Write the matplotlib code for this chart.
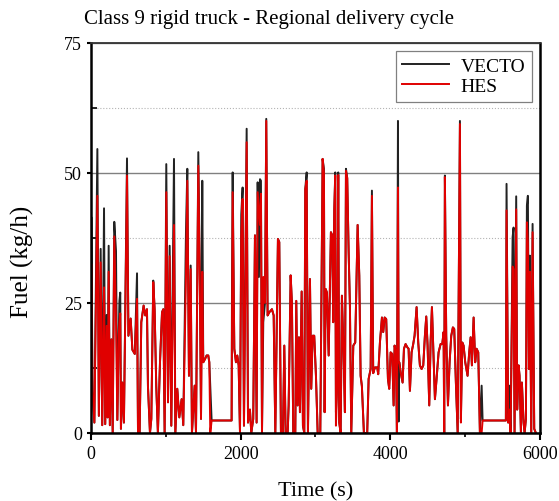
import numpy as np
import matplotlib
matplotlib.use('Agg')
import matplotlib.pyplot as plt
from matplotlib.ticker import MultipleLocator

plt.rcParams['font.family'] = ['Liberation Serif', 'DejaVu Serif']

# time (s), VECTO fuel (kg/h), HES fuel (kg/h)
time = [0, 5, 20, 45, 85, 105, 129, 150, 174, 190, 209, 222, 236, 252, 272, 290,
        311, 334, 352, 370, 380, 391, 400, 418, 440, 481, 500, 530, 553, 585,
        615, 628, 650, 672, 703, 725, 748, 761, 788, 806, 832, 850, 872, 894,
        922, 949, 966, 984, 1006, 1029, 1051, 1073, 1109, 1127, 1153, 1180,
        1211, 1233, 1269, 1287, 1309, 1332, 1349, 1385, 1403, 1434, 1456,
        1470, 1487, 1500, 1523, 1545, 1567, 1581, 1594, 1612, 1879, 1884,
        1893, 1915, 1937, 1955, 1973, 1991, 2008, 2026, 2044, 2080, 2098,
        2124, 2142, 2168, 2191, 2213, 2227, 2244, 2258, 2271, 2285, 2302,
        2325, 2342, 2360, 2382, 2418, 2441, 2463, 2498, 2516, 2538, 2565,
        2583, 2601, 2628, 2641, 2668, 2685, 2703, 2730, 2743, 2761, 2779,
        2792, 2815, 2832, 2850, 2863, 2882, 2899, 2926, 2943, 2962, 2983,
        3006, 3029, 3064, 3095, 3113, 3122, 3135, 3153, 3176, 3206, 3224,
        3237, 3251, 3264, 3273, 3291, 3304, 3317, 3336, 3353, 3376, 3393,
        3407, 3424, 3443, 3460, 3478, 3505, 3531, 3563, 3585, 3603, 3620,
        3647, 3691, 3710, 3737, 3754, 3771, 3794, 3825, 3838, 3861, 3888,
        3905, 3924, 3945, 3968, 3985, 4004, 4025, 4044, 4057, 4075, 4088,
        4102, 4111, 4119, 4138, 4164, 4182, 4204, 4226, 4244, 4262, 4284,
        4306, 4324, 4351, 4373, 4395, 4418, 4440, 4462, 4480, 4498, 4520,
        4538, 4556, 4573, 4596, 4618, 4645, 4672, 4694, 4712, 4720, 4729,
        4747, 4770, 4792, 4814, 4836, 4854, 4876, 4900, 4930, 4943, 4961,
        4979, 5001, 5032, 5054, 5073, 5090, 5113, 5134, 5153, 5175, 5197,
        5220, 5233, 5544, 5553, 5575, 5589, 5607, 5634, 5647, 5660, 5682,
        5695, 5714, 5727, 5745, 5758, 5781, 5794, 5812, 5825, 5838, 5852,
        5865, 5883, 5901, 5923, 5945]

vecto = [0, 41.5, 8, 2, 54.6, 3.3, 35.4, 1.5, 43.2, 1.7, 22.7, 3, 36.0, 1.5, 18.0, 0,
         40.6, 35.0, 2.5, 18.7, 25.4, 27.0, 0.8, 9.7, 2.0, 52.8, 18.7, 22.0, 16.0, 15.2,
         30.7, 0, 0, 21.3, 24.5, 22.6, 23.8, 9.0, 0, 2.7, 29.3, 23.8, 9.0, 0,
         13.6, 23.2, 23.8, 0, 51.7, 5.9, 36.0, 1.4, 52.7, 0, 8.5, 3.0,
         6.5, 1.5, 38.6, 50.8, 11, 32.2, 0, 9.1, 0, 54.0, 28.3,
         2.7, 48.5, 13.6, 14.2, 14.9, 14.9, 13.6, 9.1, 2.4, 2.4, 27.7,
         50.1, 16.2, 13.6, 14.9, 13, 0, 42, 47.2, 1.4, 58.5, 2,
         4.5, 0, 2.7, 38, 2, 48.2, 30, 48.8, 48.5, 0, 21.3,
         25, 60.4, 22.6, 23.2, 23.8, 22.6, 0, 37.3, 36.7, 0, 0,
         16.8, 0, 0, 5.3, 30.3, 25, 0, 0, 25.4, 5.3, 18.4,
         4, 27.2, 1.4, 0, 46.9, 50.1, 0, 29.6, 8.5, 18.7, 18.7,
         11, 0, 0, 52.7, 50.8, 4, 27.7, 27, 14.9, 38.6, 38,
         21.3, 43, 50.1, 4, 9.7, 50.1, 2, 0, 26.4, 14.9, 4,
         50.8, 49, 34.7, 24.5, 0, 16.8, 17.4, 40, 30.3, 11, 9,
         0, 0, 10.4, 12.3, 46.6, 11.5, 12.6, 12.6, 11.3, 17.4, 22.2,
         19.4, 22.2, 21.9, 10.4, 8.5, 15.5, 15.2, 5.3, 16.8, 15.5, 0,
         60, 2.2, 13.6, 11.7, 9.7, 16.2, 17.1, 16.5, 16.2, 8.1, 15.5,
         17.1, 18.7, 24.2, 17.4, 13, 12.3, 13, 18.7, 22.4, 16.8, 5.3,
         17.4, 24.2, 16.8, 6.5, 10.4, 15.5, 17.1, 17.1, 19.4, 0, 49.5,
         18.7, 5.3, 13.6, 18.7, 20.3, 20, 9.7, 0, 60, 2.7, 17.4,
         16.8, 13.6, 11, 15.5, 18.4, 13, 22.2, 13.6, 16.2, 15.5, 0,
         9.1, 2.4, 2.4, 47.9, 2, 9.1, 0, 37.6, 39.5, 0, 45.5,
         4.5, 13, 11, 0, 9.7, 2, 0, 2.7, 43.7, 45.6, 12.3,
         34.1, 0, 40.2, 0.8, 0]

hes = [0, 32.5, 8, 2, 45.6, 3.3, 32.8, 1.5, 28.0, 1.7, 20.6, 3, 31.0, 1.5, 18.0, 0,
       37.8, 21.6, 2.5, 18.7, 21.3, 23.0, 0.8, 9.7, 2.0, 49.5, 18.7, 22.0, 16.0, 15.2,
       25.8, 0, 0, 21.3, 24.5, 22.6, 23.8, 9.0, 0, 2.7, 29.0, 23.8, 9.0, 0,
       13.6, 23.2, 23.8, 0, 46.3, 5.9, 34.0, 1.4, 40.0, 0, 8.5, 3.0,
       6.5, 1.5, 30, 48.5, 11, 31.5, 0, 9.1, 0, 51.4, 26,
       2.7, 31, 13.6, 14.2, 14.9, 14.9, 13.6, 0, 2.4, 2.4, 20,
       46.3, 16.2, 13.6, 14.9, 13, 0, 38, 45, 1.4, 55.9, 2,
       4.5, 0, 2.7, 38, 2, 46.3, 43, 40, 46, 0, 30,
       25, 60, 22.6, 23.2, 23.8, 22.6, 0, 37.3, 36.7, 0, 0,
       16.8, 0, 0, 5.3, 30.3, 25, 0, 0, 25.4, 5.3, 18.4,
       4, 27.2, 1.4, 0, 46.9, 48.5, 0, 29.6, 8.5, 18.7, 18.7,
       11, 0, 0, 52.7, 50, 4, 27.7, 27, 14.9, 38.6, 38,
       21.3, 43, 49.5, 1.4, 9.7, 49.6, 2, 0, 26.4, 14.9, 4,
       50.4, 49, 34.7, 24.5, 0, 16.8, 17.4, 40, 30.3, 11, 9,
       0, 0, 10.4, 12.3, 45.6, 11.5, 12.6, 12.6, 11.3, 17.4, 22.2,
       19.4, 22.2, 21.9, 10.4, 8.5, 15.5, 15.2, 5.3, 16.8, 15.5, 0,
       47.2, 13.6, 13.6, 11.7, 9.7, 16.2, 17.1, 16.5, 16.2, 8.1, 15.5,
       17.1, 18.7, 24.2, 17.4, 13, 12.3, 13, 18.7, 22.4, 16.8, 5.3,
       17.4, 24.2, 16.8, 6.5, 10.4, 15.5, 17.1, 17.1, 19.4, 0, 49.2,
       18.7, 5.3, 13.6, 18.7, 20.3, 20, 9.7, 0, 59.4, 2, 17.4,
       16.8, 13.6, 11, 15.5, 18.4, 13, 22.2, 13.6, 16.2, 15.5, 0,
       0, 2.4, 2.4, 42.8, 2, 4.5, 0, 32, 31.5, 0, 43,
       4.5, 13, 11, 0, 9.7, 2, 0, 2.7, 40.5, 36.5, 12.3,
       31, 0, 38.6, 0.8, 0]

fig = plt.figure(figsize=(5.59, 5.02), dpi=100)
ax = fig.add_axes([0.1628, 0.1355, 0.8032, 0.777])

ax.plot(time, vecto, color='#222222', lw=1.4, label='VECTO')
ax.plot(time, hes, color='#e00000', lw=1.4, label='HES')

ax.set_xlim(0, 6000)
ax.set_ylim(0, 75)
ax.xaxis.set_major_locator(MultipleLocator(2000))
ax.xaxis.set_minor_locator(MultipleLocator(1000))
ax.yaxis.set_major_locator(MultipleLocator(25))
ax.yaxis.set_minor_locator(MultipleLocator(12.5))

# grid
ax.grid(axis='y', which='major', color='#808080', lw=1.0, ls='-')
ax.grid(axis='y', which='minor', color='#b4b4b4', lw=0.8, ls=':')
ax.set_axisbelow(True)

ax.tick_params(axis='x', which='major', direction='out', length=5, width=1.5, labelsize=13)
ax.tick_params(axis='x', which='minor', direction='out', length=3, width=1.2)
ax.tick_params(axis='y', which='major', direction='out', length=3, width=1.5, labelsize=13)
ax.tick_params(axis='y', which='minor', direction='in', length=4, width=1.2)

for s in ['left', 'bottom', 'right']:
    ax.spines[s].set_linewidth(1.8)
    ax.spines[s].set_color('black')
ax.spines['top'].set_linewidth(1.3)
ax.spines['top'].set_color('#333333')

ax.set_xlabel('Time (s)', fontsize=16, labelpad=14)
ax.set_ylabel('Fuel (kg/h)', fontsize=18)
ax.yaxis.set_label_coords(-0.128, 0.44)

fig.text(0.481, 0.962, 'Class 9 rigid truck - Regional delivery cycle',
         fontsize=15, ha='center', va='center')

leg = ax.legend(loc='upper right', fontsize=14, handlelength=2.4, fancybox=False,
                edgecolor='#808080', framealpha=1, borderpad=0.35,
                labelspacing=0.12, borderaxespad=0.4, handletextpad=0.6)
leg.get_frame().set_linewidth(0.9)

fig.savefig('out.png', dpi=100)
